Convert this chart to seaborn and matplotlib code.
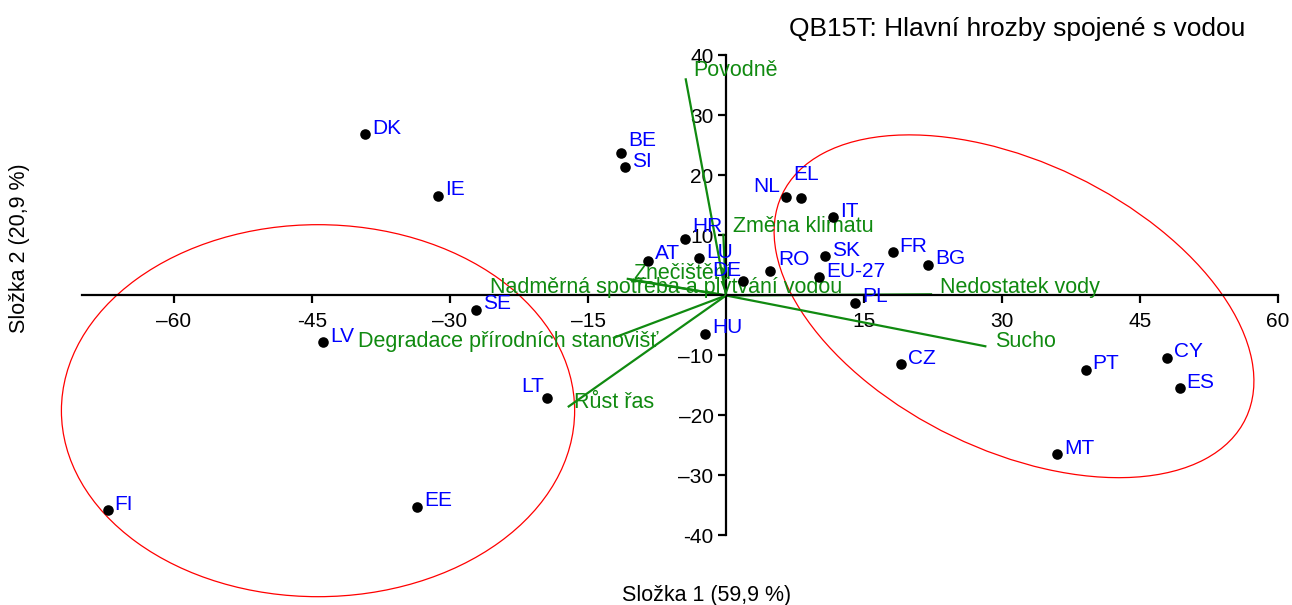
import numpy as np
import pandas as pd
import matplotlib
matplotlib.use("Agg")
import matplotlib.pyplot as plt
from matplotlib.patches import Ellipse
import seaborn as sns

# --- data ---
countries = ["DK", "IE", "BE", "SI", "HR", "AT", "LU", "DE", "NL", "EL",
             "IT", "RO", "SK", "EU-27", "FR", "BG", "PL", "HU", "SE", "LV",
             "LT", "FI", "EE", "CZ", "PT", "CY", "ES", "MT"]
comp1 = [-39.2, -31.3, -11.4, -11.0, -4.5, -8.5, -2.9, 1.8, 6.5, 8.2,
         11.6, 4.8, 10.8, 10.1, 18.1, 22.0, 14.0, -2.3, -27.2, -43.8,
         -19.5, -67.2, -33.6, 19.0, 39.1, 47.9, 49.3, 36.0]
comp2 = [26.9, 16.6, 23.8, 21.4, 9.4, 5.8, 6.2, 2.4, 16.4, 16.2,
         13.0, 4.0, 6.5, 3.0, 7.2, 5.1, -1.2, -6.4, -2.4, -7.8,
         -17.1, -35.8, -35.2, -11.5, -12.4, -10.4, -15.5, -26.5]

threats = ["Povodně", "Změna klimatu", "Znečištění", "Nadměrná spotřeba a plýtvání vodou",
           "Degradace přírodních stanovišť", "Růst řas", "Sucho", "Nedostatek vody"]
load1 = [-4.4, -0.3, -10.8, -10.4, -12.3, -17.2, 28.3, 22.4]
load2 = [36.2, 10.3, 2.8, 2.6, -7.1, -18.6, -8.5, 0.2]

# groups drawn as ellipses: centre and covariance-like shape
ell_centres = [(-44.35, -19.2), (31.3, -1.8)]
ell_shapes = [[[778.0, 0.0], [0.0, 961.0]], [[680.0, -325.0], [-325.0, 816.0]]]

xticks = [-60, -45, -30, -15, 15, 30, 45, 60]
xticklabels = ["\u201360", "-45", "\u201330", "\u201315", "15", "30", "45", "60"]
yticks = [-40, -30, -20, -10, 10, 20, 30, 40]
yticklabels = ["-40", "\u201330", "\u201320", "\u201310", "10", "20", "30", "40"]

df = pd.DataFrame({"country": countries, "c1": comp1, "c2": comp2})

sns.set_style("ticks")
plt.rcParams["font.family"] = ["Liberation Sans", "DejaVu Sans"]
plt.rcParams["text.color"] = "black"

BLUE = "#0000ff"
GREEN = "#108a10"

fig = plt.figure(figsize=(12.92, 6.05), dpi=100)
ax = fig.add_axes([0.0635, 0.1149, 0.9257, 0.7934])

# loading vectors
for name, lx, ly in zip(threats, load1, load2):
    ax.plot([0, lx], [0, ly], color=GREEN, lw=1.6, zorder=2, solid_capstyle="butt")

sns.scatterplot(data=df, x="c1", y="c2", color="black", s=58, edgecolor="black",
                linewidth=0, ax=ax, zorder=4, clip_on=False)

# country labels (offsets in points)
lab_off = {"NL": (-4, 7.4, "right"), "EL": (-6.2, 17.4, "left"), "LT": (-2, 8.3, "right"),
           "DE": (-1, 7.9, "right"), "HR": (5.5, 8.8, "left"), "BE": (4.8, 8.5, "left"),
           "RO": (6, 8.9, "left"), "AT": (5, 5.5, "left")}
for c, x, y in zip(countries, comp1, comp2):
    dx, dy, ha = lab_off.get(c, (5, 4.3, "left"))
    ax.annotate(c, (x, y), xytext=(dx, dy), textcoords="offset points",
                ha=ha, va="center", color=BLUE, fontsize=15, zorder=5)

vec_off = {"Povodně": (5.2, 5.9), "Změna klimatu": (7, 5), "Znečištění": (5, 3.9),
           "Nadměrná spotřeba a plýtvání vodou": (-101.3, -5.6),
           "Degradace přírodních stanovišť": (-183.6, -2.5), "Růst řas": (4.8, 3.2),
           "Sucho": (6.3, 3.5), "Nedostatek vody": (5.9, 5)}
for name, lx, ly in zip(threats, load1, load2):
    dx, dy = vec_off[name]
    ax.annotate(name, (lx, ly), xytext=(dx, dy), textcoords="offset points",
                ha="left", va="center", color=GREEN, fontsize=15.5, zorder=3)

# ellipses
for (cx, cy), shape in zip(ell_centres, ell_shapes):
    vals, vecs = np.linalg.eigh(np.array(shape))
    ang = np.degrees(np.arctan2(vecs[1, 1], vecs[0, 1]))
    e = Ellipse((cx, cy), 2 * np.sqrt(vals[1]), 2 * np.sqrt(vals[0]), angle=ang,
                fill=False, edgecolor="#ff0000", lw=0.9, zorder=1, clip_on=False)
    ax.add_patch(e)

ax.set_xlim(-70, 60)
ax.set_ylim(-40, 40)
for s in ["top", "right"]:
    ax.spines[s].set_visible(False)
ax.spines["left"].set_position(("data", 0))
ax.spines["bottom"].set_position(("data", 0))
for s in ["left", "bottom"]:
    ax.spines[s].set_linewidth(1.6)
    ax.spines[s].set_color("black")
    ax.spines[s].set_zorder(2.5)

ax.set_xticks(xticks)
ax.set_xticklabels(xticklabels)
ax.set_yticks(yticks)
ax.set_yticklabels(yticklabels)
ax.tick_params(axis="both", direction="out", length=6, width=1.6, labelsize=15,
               colors="black", labelcolor="black")
ax.tick_params(axis="x", pad=6)
ax.tick_params(axis="y", pad=3)
ax.set_xlabel("")
ax.set_ylabel("")

fig.text(706.5 / 1292, 1 - 595 / 605, "Složka 1 (59,9 %)", ha="center", va="center",
         fontsize=15.5, color="black")
fig.text(20 / 1292, 1 - 248 / 605, "Složka 2 (20,9 %)", ha="center", va="center",
         rotation=90, fontsize=15.5, color="black")
fig.text(1245 / 1292, 1 - 29 / 605, "QB15T: Hlavní hrozby spojené s vodou", ha="right",
         va="center", fontsize=19, color="black")

fig.savefig("out.png", dpi=100)
